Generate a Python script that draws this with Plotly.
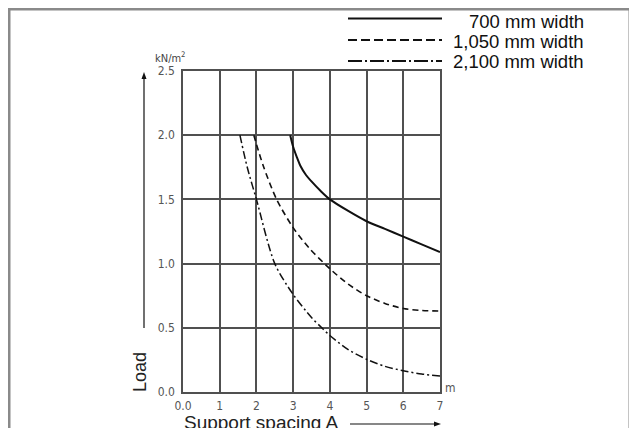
import plotly.graph_objects as go

# ---- data ----
x_700 = [2.92, 3.0, 3.1, 3.2, 3.35, 3.5, 3.75, 4.0, 4.5, 5.0, 5.5, 6.0, 6.5, 7.0]
y_700 = [2.0, 1.91, 1.83, 1.76, 1.69, 1.64, 1.565, 1.5, 1.41, 1.33, 1.27, 1.21, 1.15, 1.09]

x_1050 = [1.93, 2.0, 2.2, 2.55, 3.0, 3.44, 4.0, 4.5, 5.0, 5.5, 6.0, 6.5, 7.0]
y_1050 = [2.0, 1.93, 1.75, 1.5, 1.28, 1.12, 0.96, 0.84, 0.75, 0.69, 0.65, 0.635, 0.63]

x_2100 = [1.55, 1.75, 2.0, 2.5, 3.0, 3.5, 3.78, 4.0, 4.5, 5.0, 5.5, 6.0, 6.5, 7.0]
y_2100 = [2.0, 1.75, 1.5, 1.0, 0.76, 0.58, 0.5, 0.44, 0.33, 0.255, 0.2, 0.165, 0.14, 0.125]

series_names = ["700 mm width", "1,050 mm width", "2,100 mm width"]
x_tickvals = [0, 1, 2, 3, 4, 5, 6, 7]
x_ticktext = ["0.0", "1", "2", "3", "4", "5", "6", "7"]
y_tickvals = [0.0, 0.5, 1.0, 1.5, 2.0, 2.5]
y_ticktext = ["0.0", "0.5", "1.0", "1.5", "2.0", "2.5"]

# ---- layout geometry (page body has an 8px margin) ----
OFF = 8
WIN_W, WIN_H = 637, 428
FW, FH = WIN_W - OFF, WIN_H - OFF
PLOT_X0, PLOT_X1, PLOT_Y0, PLOT_Y1 = 183, 440, 71, 392  # window pixels
PW, PH = PLOT_X1 - PLOT_X0, PLOT_Y1 - PLOT_Y0
L, T = PLOT_X0 - OFF, PLOT_Y0 - OFF
R, B = FW - L - PW, FH - T - PH


def px(x):
    return (x - PLOT_X0) / PW


def py(y):
    return (PLOT_Y1 - y) / PH


NARROW = "Liberation Sans Narrow, Arial Narrow, DejaVu Sans Condensed, sans-serif"
SANS = "Liberation Sans, Arial, Helvetica, sans-serif"
LINE = "#111111"

fig = go.Figure()
styles = [("solid", 2.0), ("6px,4px", 1.6), ("8px,3px,2px,3px", 1.5)]
for (xs, ys), name, (dash, w) in zip(
    [(x_700, y_700), (x_1050, y_1050), (x_2100, y_2100)], series_names, styles
):
    fig.add_trace(
        go.Scatter(
            x=xs, y=ys, mode="lines", name=name,
            line=dict(color=LINE, width=w, dash=dash, shape="spline", smoothing=0.8),
            showlegend=False,
        )
    )

grid_col = "#505050"
fig.update_xaxes(
    range=[0, 7], tickvals=x_tickvals, ticktext=x_ticktext,
    showgrid=True, gridcolor=grid_col, gridwidth=1.5,
    showline=True, linecolor=grid_col, linewidth=1.5, mirror=True,
    ticks="outside", ticklen=2, tickcolor="rgba(0,0,0,0)",
    tickfont=dict(family=NARROW, size=12, color="#555555"),
    zeroline=False, automargin=False, fixedrange=True,
)
fig.update_yaxes(
    range=[0, 2.5], tickvals=y_tickvals, ticktext=y_ticktext,
    showgrid=True, gridcolor=grid_col, gridwidth=1.5,
    showline=True, linecolor=grid_col, linewidth=1.5, mirror=True,
    ticks="outside", ticklen=4, tickcolor="rgba(0,0,0,0)",
    tickfont=dict(family=NARROW, size=12, color="#555555"),
    zeroline=False, automargin=False, fixedrange=True,
)

shapes = []
# outer frame
frame = dict(color="#8a8a8a", width=3)
shapes.append(dict(type="line", xref="paper", yref="paper",
                   x0=px(8), x1=px(631), y0=py(9), y1=py(9), line=frame))
shapes.append(dict(type="line", xref="paper", yref="paper",
                   x0=px(9), x1=px(9), y0=py(8), y1=py(440), line=frame))
shapes.append(dict(type="line", xref="paper", yref="paper",
                   x0=px(630), x1=px(630), y0=py(8), y1=py(440), line=frame))

# legend key lines
leg_y = [18.5, 40, 61]
leg_dash = ["solid", "9px,4px", "14px,3px,2px,3px"]
for yy, dd in zip(leg_y, leg_dash):
    shapes.append(dict(type="line", xref="paper", yref="paper",
                       x0=px(348), x1=px(442), y0=py(yy), y1=py(yy),
                       line=dict(color=LINE, width=1.8, dash=dd)))

# axis arrows (line + head)
arrow_line = dict(color="#111111", width=1.2)
shapes.append(dict(type="line", xref="paper", yref="paper",
                   x0=px(144), x1=px(144), y0=py(328), y1=py(76), line=arrow_line))
shapes.append(dict(type="path", xref="paper", yref="paper",
                   path=f"M {px(144)},{py(72)} L {px(141.5)},{py(79)} L {px(146.5)},{py(79)} Z",
                   fillcolor="#111111", line=dict(width=0)))
shapes.append(dict(type="line", xref="paper", yref="paper",
                   x0=px(350), x1=px(437), y0=py(424), y1=py(424), line=arrow_line))
shapes.append(dict(type="path", xref="paper", yref="paper",
                   path=f"M {px(441)},{py(424)} L {px(434)},{py(421.5)} L {px(434)},{py(426.5)} Z",
                   fillcolor="#111111", line=dict(width=0)))

annotations = []
leg_text_y = [21.5, 41.5, 61]
for name, yy in zip(series_names, leg_text_y):
    annotations.append(dict(xref="paper", yref="paper", x=px(586), y=py(yy),
                            text=name, showarrow=False, xanchor="right", yanchor="middle",
                            font=dict(family=SANS, size=18.5, color="#111111")))

annotations += [
    dict(xref="paper", yref="paper", x=px(170), y=py(57), text="kN/m<sup>2</sup>",
         showarrow=False, xanchor="center", yanchor="middle",
         font=dict(family=NARROW, size=11, color="#444444")),
    dict(xref="paper", yref="paper", x=px(443), y=py(388), text="m",
         showarrow=False, xanchor="left", yanchor="middle",
         font=dict(family=NARROW, size=12, color="#555555")),
    dict(xref="paper", yref="paper", x=px(140), y=py(372), text="Load",
         showarrow=False, textangle=-90, xanchor="center", yanchor="middle",
         font=dict(family=SANS, size=18, color="#222222")),
    dict(xref="paper", yref="paper", x=px(182), y=py(423), text="Support spacing A",
         showarrow=False, xanchor="left", yanchor="middle",
         font=dict(family=SANS, size=19, color="#222222")),
]

fig.update_layout(
    width=FW, height=FH,
    margin=dict(l=L, r=R, t=T, b=B, pad=0),
    paper_bgcolor="white", plot_bgcolor="white",
    shapes=shapes, annotations=annotations,
    showlegend=False,
)

fig.write_html("out.html", config={"displayModeBar": False})
